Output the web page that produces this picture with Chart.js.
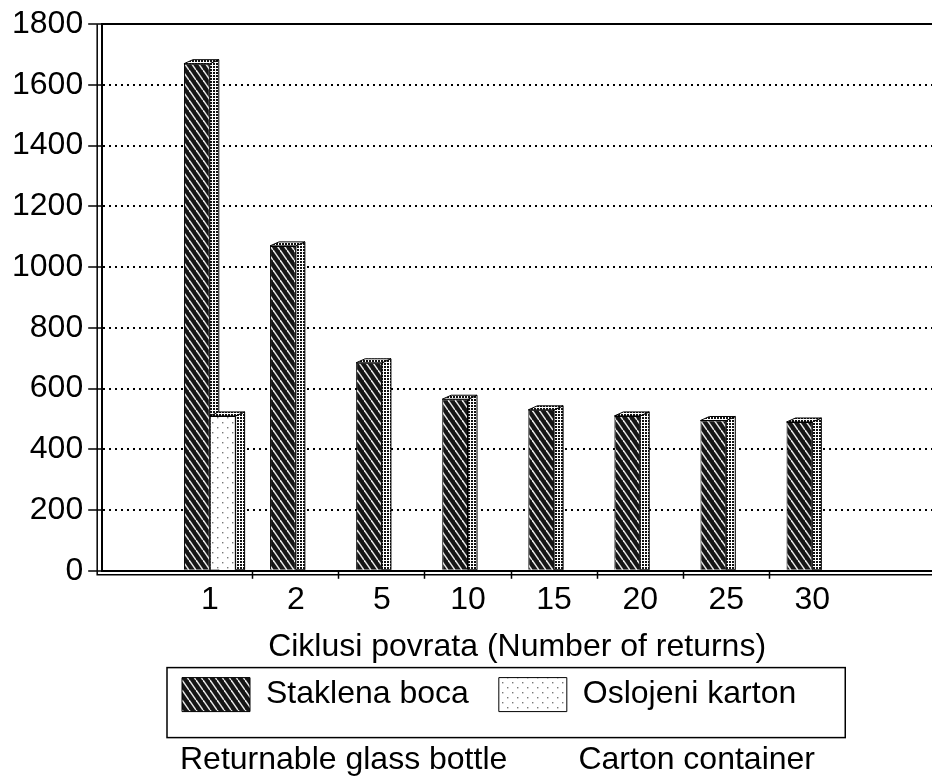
<!DOCTYPE html>
<html lang="hr">

<head>
    <meta charset="UTF-8" />
    <title>Ciklusi povrata</title>
    <script src="https://cdn.jsdelivr.net/npm/chart.js"></script>
    <style>
        html,
        body {
            margin: 0;
            padding: 0;
            background: #fff;
        }

        #wrap {
            width: 932px;
            height: 779px;
        }
    </style>
</head>

<body>
    <div id="wrap"><canvas id="returnsChart"></canvas></div>

    <script>
        // data
        const returnLabels = ["1", "2", "5", "10", "15", "20", "25", "30"];
        const glassBottle = [1670, 1070, 685, 565, 530, 510, 495, 490];
        const cartonContainer = [510, null, null, null, null, null, null, null];
        const seriesNames = ["Staklena boca", "Oslojeni karton"];
        const seriesNotes = ["Returnable glass bottle", "Carton container"];
        const xTitle = "Ciklusi povrata (Number of returns)";
        const yMax = 1800;
        const yStep = 200;

        const FONT = "'Liberation Sans', Arial, sans-serif";
        const DX = 9, DY = 4; // fake 3d depth

        function makePattern(w, h, draw) {
            const c = document.createElement("canvas");
            c.width = w;
            c.height = h;
            const g = c.getContext("2d");
            draw(g, w, h);
            return g.createPattern(c, "repeat");
        }

        // dark hatch with thin white "\" stripes
        const hatch = makePattern(7, 10, (g, w, h) => {
            g.fillStyle = "#161616";
            g.fillRect(0, 0, w, h);
            g.strokeStyle = "#e8e8e8";
            g.lineWidth = 1.5;
            for (let k = -1; k <= 1; k++) {
                g.beginPath();
                g.moveTo(0, k * h);
                g.lineTo(w, h + k * h);
                g.stroke();
            }
        });

        // sparse dots for the carton
        const dots = makePattern(10, 10, (g, w, h) => {
            g.fillStyle = "#fff";
            g.fillRect(0, 0, w, h);
            g.fillStyle = "#777";
            g.fillRect(2, 2, 1.4, 1.4);
            g.fillRect(7, 7, 1.4, 1.4);
        });

        // stipple for side and top faces
        const stipple = makePattern(3, 3, (g, w, h) => {
            g.fillStyle = "#fff";
            g.fillRect(0, 0, w, h);
            g.fillStyle = "#111";
            g.fillRect(0, 0, 2, 2);
        });

        const toPoints = arr => arr.map((v, i) => ({ x: i, y: v }));
        const gap = "\u00a0".repeat(8);
        const subtitleText = seriesNotes[0] + gap + seriesNotes[1];

        // draw bars in dataset order, each with a side and top face
        const bars3d = {
            id: "bars3d",
            beforeDatasetDraw() {
                return false;
            },
            afterDatasetsDraw(chart) {
                const ctx = chart.ctx;
                const area = chart.chartArea;
                ctx.save();
                ctx.beginPath();
                ctx.rect(area.left, area.top - DY - 2, area.right - area.left, area.bottom - area.top + DY + 2);
                ctx.clip();
                for (let i = 0; i < returnLabels.length; i++) {
                    chart.data.datasets.forEach((ds, d) => {
                        const meta = chart.getDatasetMeta(d);
                        if (meta.controller.getParsed(i).y === null) return;
                        const bar = meta.data[i];
                        bar.draw(ctx);
                        const { x, y, base, width } = bar.getProps(["x", "y", "base", "width"], true);
                        const l = x - width / 2, r = x + width / 2;
                        ctx.fillStyle = stipple;
                        ctx.strokeStyle = "#000";
                        ctx.lineWidth = 1;
                        ctx.beginPath();
                        ctx.moveTo(r, y);
                        ctx.lineTo(r + DX, y - DY);
                        ctx.lineTo(r + DX, base);
                        ctx.lineTo(r, base);
                        ctx.closePath();
                        ctx.fill();
                        ctx.stroke();
                        ctx.beginPath();
                        ctx.moveTo(l, y);
                        ctx.lineTo(l + DX, y - DY);
                        ctx.lineTo(r + DX, y - DY);
                        ctx.lineTo(r, y);
                        ctx.closePath();
                        ctx.fill();
                        ctx.stroke();
                    });
                }
                ctx.restore();
            }
        };

        // nudge legend and footnote under the plot like in the scan
        const placeBottom = {
            id: "placeBottom",
            afterLayout(chart) {
                const lg = chart.legend;
                lg.left = 152;
                lg.top -= 19;
                lg.bottom -= 19;
                const sub = chart.boxes.find(b => b.options && b.options.text === subtitleText);
                if (sub) sub.left += 56;
            },
            afterDraw(chart) {
                const ctx = chart.ctx;
                const area = chart.chartArea;
                ctx.save();
                ctx.strokeStyle = "#000";
                // second wall / floor line
                ctx.lineWidth = 1.5;
                ctx.beginPath();
                ctx.moveTo(area.left - 5, area.top);
                ctx.lineTo(area.left - 5, area.bottom + 4);
                ctx.lineTo(area.right, area.bottom + 4);
                ctx.stroke();
                // frame round the legend
                const boxes = chart.legend.legendHitBoxes;
                if (boxes.length) {
                    const first = boxes[0], last = boxes[boxes.length - 1];
                    const x0 = first.left - 15;
                    const x1 = last.left + last.width + 49;
                    ctx.lineWidth = 1.5;
                    ctx.strokeRect(x0, first.top - 10, x1 - x0, 70);
                }
                ctx.restore();
            }
        };

        const chart = new Chart(document.getElementById("returnsChart"), {
            type: "bar",
            data: {
                datasets: [
                    {
                        label: seriesNames[0],
                        data: toPoints(glassBottle),
                        backgroundColor: hatch,
                        borderColor: "#000",
                        borderWidth: 1
                    },
                    {
                        label: seriesNames[1],
                        data: toPoints(cartonContainer),
                        backgroundColor: dots,
                        borderColor: "#000",
                        borderWidth: 1
                    }
                ]
            },
            options: {
                responsive: true,
                maintainAspectRatio: false,
                animation: false,
                categoryPercentage: 0.6,
                barPercentage: 1,
                layout: {
                    padding: { left: 7, right: 0, top: 18, bottom: 0 }
                },
                scales: {
                    x: {
                        type: "linear",
                        min: -1.25,
                        max: 8.39,
                        offset: false,
                        ticks: {
                            stepSize: 1,
                            includeBounds: false,
                            autoSkip: false,
                            maxRotation: 0,
                            padding: 2,
                            color: "#000",
                            font: { family: FONT, size: 32 },
                            callback: v => returnLabels[v] ?? ""
                        },
                        grid: {
                            offset: true,
                            drawOnChartArea: false,
                            tickLength: 8,
                            tickWidth: 1.5,
                            tickColor: c => (c.tick && c.tick.value >= 1 && c.tick.value <= 7) ? "#000" : "rgba(0,0,0,0)"
                        },
                        border: { color: "#000", width: 2 },
                        title: {
                            display: true,
                            text: xTitle,
                            color: "#000",
                            font: { family: FONT, size: 32 },
                            padding: { top: 7, bottom: 0 }
                        }
                    },
                    top: {
                        type: "linear",
                        position: "top",
                        display: true,
                        afterFit: s => { s.height = 0; },
                        ticks: { display: false },
                        grid: { display: false },
                        border: { color: "#000", width: 2 }
                    },
                    y: {
                        min: 0,
                        max: yMax,
                        ticks: {
                            stepSize: yStep,
                            padding: 5,
                            color: "#000",
                            font: { family: FONT, size: 32 },
                            callback: v => String(v)
                        },
                        grid: {
                            color: "#000",
                            lineWidth: 2,
                            tickLength: 14,
                            tickColor: "#000",
                            tickWidth: 1.5
                        },
                        border: { color: "#000", width: 2, dash: [2, 4] }
                    }
                },
                plugins: {
                    legend: {
                        position: "bottom",
                        align: "start",
                        labels: {
                            color: "#000",
                            font: { family: FONT, size: 32 },
                            boxWidth: 68,
                            boxHeight: 34,
                            padding: 30
                        }
                    },
                    subtitle: {
                        display: true,
                        position: "bottom",
                        text: subtitleText,
                        color: "#000",
                        font: { family: FONT, size: 32, weight: "normal" },
                        padding: { top: 0, bottom: 0 }
                    },
                    tooltip: { enabled: false }
                }
            },
            plugins: [bars3d, placeBottom]
        });
    </script>
</body>

</html>
